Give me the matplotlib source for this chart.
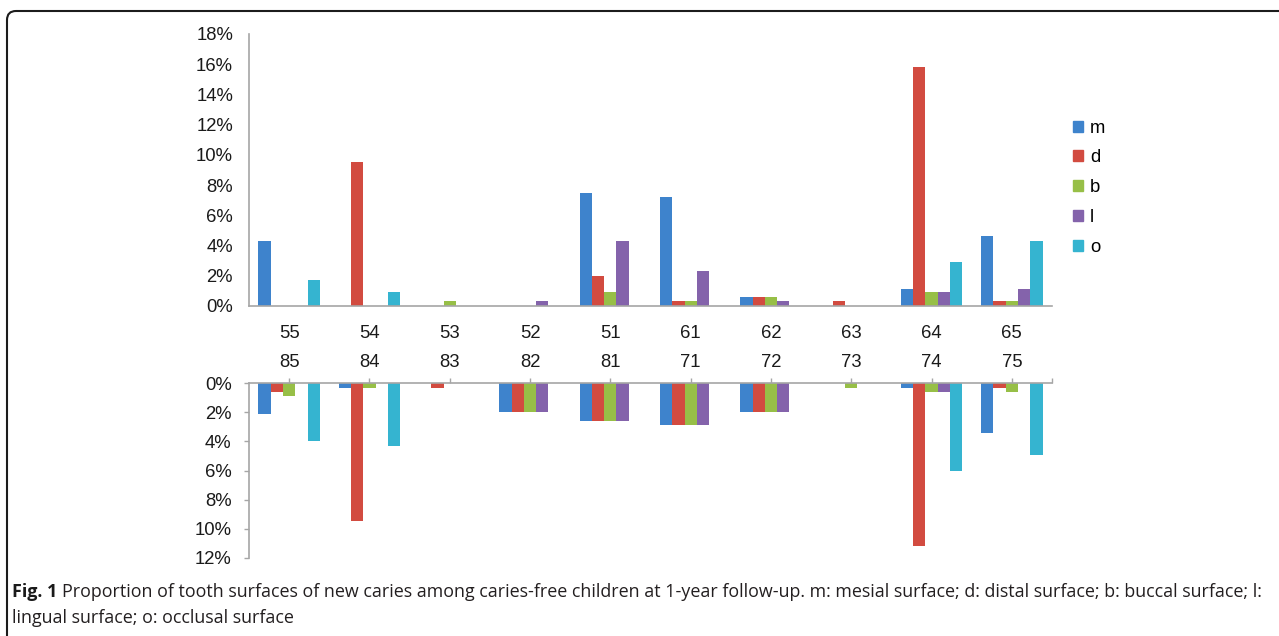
import numpy as np
import matplotlib
matplotlib.use("Agg")
import matplotlib.pyplot as plt
from matplotlib.patches import FancyBboxPatch, Patch
from matplotlib.transforms import IdentityTransform
from matplotlib.ticker import FuncFormatter

upper_teeth = ["55", "54", "53", "52", "51", "61", "62", "63", "64", "65"]
lower_teeth = ["85", "84", "83", "82", "81", "71", "72", "73", "74", "75"]
surfaces = ["m", "d", "b", "l", "o"]

# upper jaw, % of surfaces with new caries
upper_m = [4.3, 0, 0, 0, 7.5, 7.2, 0.6, 0, 1.1, 4.6]
upper_d = [0, 9.5, 0, 0, 2.0, 0.3, 0.6, 0.3, 15.8, 0.3]
upper_b = [0, 0, 0.3, 0, 0.9, 0.3, 0.6, 0, 0.9, 0.3]
upper_l = [0, 0, 0, 0.3, 4.3, 2.3, 0.3, 0, 0.9, 1.1]
upper_o = [1.7, 0.9, 0, 0, 0, 0, 0, 0, 2.9, 4.3]

# lower jaw (drawn downwards)
lower_m = [2.1, 0.3, 0, 2.0, 2.6, 2.9, 2.0, 0, 0.3, 3.4]
lower_d = [0.6, 9.5, 0.3, 2.0, 2.6, 2.9, 2.0, 0, 11.2, 0.3]
lower_b = [0.9, 0.3, 0, 2.0, 2.6, 2.9, 2.0, 0.3, 0.6, 0.6]
lower_l = [0, 0, 0, 2.0, 2.6, 2.9, 2.0, 0, 0.6, 0]
lower_o = [4.0, 4.3, 0, 0, 0, 0, 0, 0, 6.0, 4.9]

colors = ["#3e83cc", "#d24b40", "#97bf47", "#8463ab", "#35b4d0"]

upper = [upper_m, upper_d, upper_b, upper_l, upper_o]
lower = [lower_m, lower_d, lower_b, lower_l, lower_o]

W, H = 1279, 636
fig = plt.figure(figsize=(W / 100, H / 100), dpi=100)
fig.patch.set_facecolor("white")

tick_font = dict(family="Liberation Sans", size=13.3, color="#1a1a1a")
spine_col = "#a6a6a6"

x = np.arange(len(upper_teeth))
bw = 0.153

# top chart
ax1 = fig.add_axes([249 / W, 1 - 306 / H, (1052 - 249) / W, (306 - 34) / H])
for j, vals in enumerate(upper):
    ax1.bar(x + (j - 2) * bw, vals, bw, color=colors[j], label=surfaces[j])
ax1.set_xlim(-0.5, 9.5)
ax1.set_ylim(0, 18)
ax1.set_yticks(np.arange(0, 19, 2))
ax1.yaxis.set_major_formatter(FuncFormatter(lambda v, p: f"{v:.0f}%"))
ax1.set_xticks(x)
ax1.set_xticklabels(upper_teeth)
ax1.tick_params(axis="x", length=0, pad=13.5)
ax1.tick_params(axis="y", length=0, pad=11.5)
for lab in ax1.get_xticklabels() + ax1.get_yticklabels():
    lab.set_fontfamily(tick_font["family"])
    lab.set_fontsize(tick_font["size"])
    lab.set_color(tick_font["color"])
for s in ["top", "right"]:
    ax1.spines[s].set_visible(False)
for s in ["left", "bottom"]:
    ax1.spines[s].set_color(spine_col)
    ax1.spines[s].set_linewidth(1.2)

# bottom chart
ax2 = fig.add_axes([249 / W, 1 - 557.7 / H, (1052 - 249) / W, (557.7 - 383.3) / H])
for j, vals in enumerate(lower):
    ax2.bar(x + (j - 2) * bw, vals, bw, color=colors[j])
ax2.set_xlim(-0.5, 9.5)
ax2.set_ylim(12, 0)
ax2.set_yticks(np.arange(0, 13, 2))
ax2.yaxis.set_major_formatter(FuncFormatter(lambda v, p: f"{v:.0f}%"))
ax2.xaxis.tick_top()
ax2.set_xticks(x)
ax2.set_xticklabels(lower_teeth)
ax2.set_xticks([9.5], minor=True)
ax2.tick_params(axis="x", which="both", direction="out", length=3.5, width=1,
                color=spine_col, pad=5.5)
ax2.tick_params(axis="y", direction="out", length=3.5, width=1, color=spine_col, pad=9)
for lab in ax2.get_xticklabels() + ax2.get_yticklabels():
    lab.set_fontfamily(tick_font["family"])
    lab.set_fontsize(tick_font["size"])
    lab.set_color(tick_font["color"])
for s in ["bottom", "right"]:
    ax2.spines[s].set_visible(False)
for s in ["left", "top"]:
    ax2.spines[s].set_color(spine_col)
    ax2.spines[s].set_linewidth(1.2)

# legend
handles = [Patch(color=c, label=s) for c, s in zip(colors, surfaces)]
fig.legend(handles=handles, loc="upper left", bbox_to_anchor=(1056 / W, 1 - 103 / H),
           frameon=False, handlelength=0.55, handleheight=0.55, handletextpad=0.4,
           labelspacing=0.69, prop=dict(family="Liberation Sans", size=13.3))

# frame round the figure
frame = FancyBboxPatch((7, -40), 1400, H - 11 + 40,
                       boxstyle="round,pad=0,rounding_size=9",
                       transform=IdentityTransform(), facecolor="none",
                       edgecolor="#1c1c1c", linewidth=1.5)
fig.patches.append(frame)

# caption
cap_bold = "Fig. 1"
cap_rest = ("Proportion of tooth surfaces of new caries among caries-free children at "
            "1-year follow-up. m: mesial surface; d: distal surface; b: buccal surface; l:")
cap_line2 = "lingual surface; o: occlusal surface"
cap_font = "Open Sans"
x0, x1 = 12, 1270
y1, y2 = 592, 618

fs = 11
t1 = fig.text(x0 / W, 1 - y1 / H, cap_bold, fontfamily=cap_font, fontweight="bold",
              fontsize=fs, color="#1a1a1a", va="center")
t2 = fig.text(0, 1 - y1 / H, cap_rest, fontfamily=cap_font, fontsize=fs,
              color="#231f20", va="center")
r = fig.canvas.get_renderer()
total = t1.get_window_extent(r).width + t2.get_window_extent(r).width + 5
fs = fs * (x1 - x0) / total
t1.set_fontsize(fs)
t2.set_fontsize(fs)
gap = fs * 100 / 72 * 0.27
t2.set_x((x0 + t1.get_window_extent(r).width + gap) / W)
fig.text(x0 / W, 1 - y2 / H, cap_line2, fontfamily=cap_font, fontsize=fs,
         color="#231f20", va="center")

fig.savefig("out.png", dpi=100)
